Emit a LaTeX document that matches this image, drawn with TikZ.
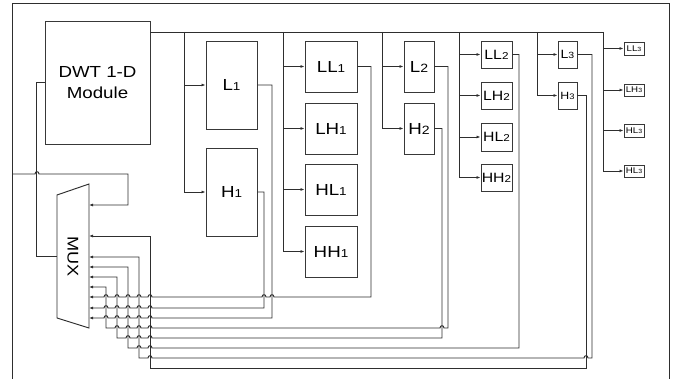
\documentclass[tikz,border=0pt]{standalone}
\usepackage{fontspec}
\setmainfont{Liberation Sans}
\usetikzlibrary{arrows.meta,calc}
\newcommand\sx[1]{\scalebox{1.17}[1]{#1}}
\newcommand\lb[4]{\sx{\fontsize{#3}{#3}\selectfont #1\fontsize{#4}{#4}\selectfont #2}}
\newcommand\hp[2]{-- ({#1-2},#2) .. controls ({#1-2},{#2-3}) and ({#1+2},{#2-3}) .. ({#1+2},#2)}
\begin{document}
\begin{tikzpicture}[x=1pt,y=-1pt,
  wire/.style={draw=black!82,line width=0.95pt},
  arr/.style={wire,-{Latex[length=4pt,width=3pt]}},
  rarr/.style={wire,{Latex[length=4pt,width=3pt]}-},
  box/.style={draw=black!78,line width=0.95pt,inner sep=0pt}]
\useasboundingbox (0,0) rectangle (680,379);
% frame
\draw[wire] (12,390) -- (12,3) -- (669,3) -- (669,390);
% boxes
\node[box,minimum width=105,minimum height=123,align=center,font=\fontsize{16}{21}\selectfont] (dwt) at (97.5,82.5) {\sx{DWT 1-D}\\\sx{Module}};
\node[box,minimum width=51,minimum height=88] (L1) at (231.5,85) {\lb{L}{1}{16}{11.5}};
\node[box,minimum width=51,minimum height=88] (H1) at (231.5,192) {\lb{H}{1}{16}{11.5}};
\node[box,minimum width=52,minimum height=51] (LL1) at (331,66.5) {\lb{LL}{1}{16}{11.5}};
\node[box,minimum width=52,minimum height=51] (LH1) at (331,128.5) {\lb{LH}{1}{16}{11.5}};
\node[box,minimum width=52,minimum height=51] (HL1) at (331,189.5) {\lb{HL}{1}{16}{11.5}};
\node[box,minimum width=52,minimum height=51] (HH1) at (331,251.5) {\lb{HH}{1}{16}{11.5}};
\node[box,minimum width=30,minimum height=51] (L2) at (419,66.5) {\lb{L}{2}{16}{12}};
\node[box,minimum width=30,minimum height=51] (H2) at (419,128.5) {\lb{H}{2}{16}{12}};
\node[box,minimum width=31,minimum height=27] (LL2) at (496.5,54.5) {\lb{LL}{2}{13.5}{10}};
\node[box,minimum width=31,minimum height=27] (LH2) at (496.5,95.5) {\lb{LH}{2}{13.5}{10}};
\node[box,minimum width=31,minimum height=28] (HL2) at (496.5,137) {\lb{HL}{2}{13.5}{10}};
\node[box,minimum width=31,minimum height=27] (HH2) at (496.5,177.5) {\lb{HH}{2}{13.5}{10}};
\node[box,minimum width=19,minimum height=27] (L3) at (567.5,54.5) {\lb{L}{3}{12}{9}};
\node[box,minimum width=19,minimum height=27] (H3) at (567.5,95.5) {\lb{H}{3}{10.5}{8}};
\node[box,minimum width=20,minimum height=13] (LL3) at (634,48.5) {\lb{LL}{3}{8.3}{6}};
\node[box,minimum width=20,minimum height=12] (LH3) at (634,90) {\lb{LH}{3}{8.3}{6}};
\node[box,minimum width=20,minimum height=13] (HL3a) at (634,130.5) {\lb{HL}{3}{8.3}{6}};
\node[box,minimum width=20,minimum height=12] (HL3b) at (634,171) {\lb{HL}{3}{8.3}{6}};
% MUX
\draw[wire] (57,195) -- (89,184) -- (89,328) -- (57,318) -- cycle;
\node[inner sep=0,minimum width=32,minimum height=123] (mux) at (73,256.5) {\rotatebox{-90}{\sx{\fontsize{15.5}{15.5}\selectfont MUX}}};
% bus from DWT
\coordinate (ytop) at (0,32);
\coordinate (bA) at (184,32);
\coordinate (bB) at (283,32);
\coordinate (bC) at (382,32);
\coordinate (bD) at (459,32);
\coordinate (bE) at (537,32);
\coordinate (bF) at (603,32);
\draw[wire] (dwt.east |- ytop) -- (bF);
\draw[arr] (bA) |- (H1.west);
\draw[arr] (bA |- L1.west) -- (L1.west);
\draw[arr] (bB) |- (HH1.west);
\draw[arr] (bB |- LL1.west) -- (LL1.west);
\draw[arr] (bB |- LH1.west) -- (LH1.west);
\draw[arr] (bB |- HL1.west) -- (HL1.west);
\draw[arr] (bC) |- (H2.west);
\draw[arr] (bC |- L2.west) -- (L2.west);
\draw[arr] (bD) |- (HH2.west);
\draw[arr] (bD |- LL2.west) -- (LL2.west);
\draw[arr] (bD |- LH2.west) -- (LH2.west);
\draw[arr] (bD |- HL2.west) -- (HL2.west);
\draw[arr] (bE) |- (H3.west);
\draw[arr] (bE |- L3.west) -- (L3.west);
\draw[arr] (bF) |- (HL3b.west);
\draw[arr] (bF |- LL3.west) -- (LL3.west);
\draw[arr] (bF |- LH3.west) -- (LH3.west);
\draw[arr] (bF |- HL3a.west) -- (HL3a.west);
% MUX output back to DWT
\draw[wire] (mux.west) -- ++(-20,0) |- (dwt.west);
% MUX inputs
\coordinate (inp) at (12,174);
\coordinate (mi0) at (89,205);
\coordinate (mi1) at (89,236);
\coordinate (mi2) at (89,257);
\coordinate (mi3) at (89,267);
\coordinate (mi4) at (89,277);
\coordinate (mi5) at (89,287);
\coordinate (mi6) at (89,297);
\coordinate (mi7) at (89,308);
\coordinate (mi8) at (89,318);
\draw[arr] (inp) \hp{37}{174} -- (128,174) |- (mi0);
\draw[rarr] (mi1) -- (150,236) -- (150,368) -- (586,368) |- (H3.east);
\draw[rarr] (mi2) -- (139,257) -- (139,358) \hp{150}{358} \hp{586}{358} -- (592,358) |- (L3.east);
\draw[rarr] (mi3) -- (128,267) -- (128,348) \hp{139}{348} \hp{150}{348} -- (519,348) |- (LL2.east);
\draw[rarr] (mi4) -- (117,277) -- (117,338) \hp{128}{338} \hp{139}{338} \hp{150}{338} -- (442,338) |- (H2.east);
\draw[rarr] (mi5) -- (106,287) -- (106,328) \hp{117}{328} \hp{128}{328} \hp{139}{328} \hp{150}{328} \hp{442}{328} -- (448,328) |- (L2.east);
\draw[rarr] (mi6) \hp{106}{297} \hp{117}{297} \hp{128}{297} \hp{139}{297} \hp{150}{297} \hp{264}{297} \hp{272}{297} -- (371,297) |- (LL1.east);
\draw[rarr] (mi7) \hp{106}{308} \hp{117}{308} \hp{128}{308} \hp{139}{308} \hp{150}{308} -- (264,308) |- (H1.east);
\draw[rarr] (mi8) \hp{106}{318} \hp{117}{318} \hp{128}{318} \hp{139}{318} \hp{150}{318} -- (272,318) |- (L1.east);
\end{tikzpicture}
\end{document}
